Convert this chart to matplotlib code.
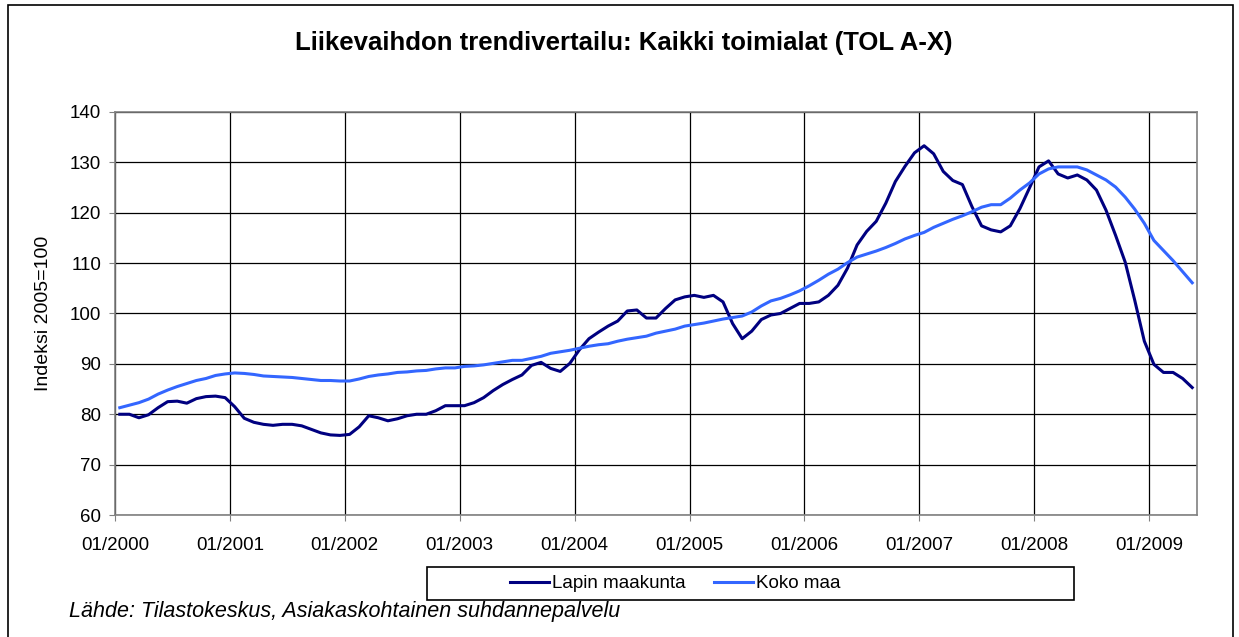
import matplotlib
matplotlib.use("Agg")
import matplotlib.pyplot as plt
from matplotlib.patches import Rectangle
from matplotlib.lines import Line2D
import numpy as np

plt.rcParams['font.family'] = ['Liberation Sans', 'DejaVu Sans']

title = "Liikevaihdon trendivertailu: Kaikki toimialat (TOL A-X)"
ylabel = "Indeksi 2005=100"
source = "Lähde: Tilastokeskus, Asiakaskohtainen suhdannepalvelu"
series_names = ["Lapin maakunta", "Koko maa"]
year_labels = ["01/2000", "01/2001", "01/2002", "01/2003", "01/2004",
               "01/2005", "01/2006", "01/2007", "01/2008", "01/2009"]

# Monthly values 01/2000 - 05/2009
lapin = [80.0, 80.0, 79.3, 79.9, 81.3, 82.5, 82.6, 82.2, 83.1, 83.5, 83.6, 83.3,
         81.5, 79.2, 78.4, 78.0, 77.8, 78.0, 78.0, 77.7, 77.0, 76.3, 75.9, 75.8,
         76.0, 77.5, 79.7, 79.3, 78.7, 79.1, 79.7, 80.0, 80.0, 80.7, 81.7, 81.7,
         81.7, 82.3, 83.3, 84.7, 85.9, 86.9, 87.8, 89.7, 90.3, 89.1, 88.5, 90.1,
         92.8, 95.0, 96.3, 97.5, 98.5, 100.5, 100.7, 99.1, 99.1, 101.0, 102.7, 103.3,
         103.6, 103.2, 103.6, 102.3, 98.0, 95.0, 96.5, 98.8, 99.7, 100.0, 101.0, 102.0,
         102.0, 102.3, 103.6, 105.6, 109.0, 113.6, 116.3, 118.3, 121.9, 126.2, 129.2, 131.9,
         133.3, 131.7, 128.2, 126.4, 125.6, 121.2, 117.4, 116.6, 116.2, 117.4, 120.8, 124.9,
         129.1, 130.3, 127.7, 126.9, 127.5, 126.5, 124.5, 120.5, 115.5, 110.2, 102.6, 94.5,
         89.9, 88.3, 88.3, 87.1, 85.3]
koko = [81.3, 81.8, 82.3, 83.0, 84.0, 84.8, 85.5, 86.1, 86.7, 87.1, 87.7, 88.0,
        88.2, 88.1, 87.9, 87.6, 87.5, 87.4, 87.3, 87.1, 86.9, 86.7, 86.7, 86.6,
        86.6, 87.0, 87.5, 87.8, 88.0, 88.3, 88.4, 88.6, 88.7, 89.0, 89.2, 89.2,
        89.5, 89.6, 89.8, 90.1, 90.4, 90.7, 90.7, 91.1, 91.5, 92.1, 92.4, 92.7,
        93.1, 93.5, 93.8, 94.0, 94.5, 94.9, 95.2, 95.5, 96.1, 96.5, 96.9, 97.5,
        97.8, 98.1, 98.5, 98.9, 99.2, 99.5, 100.3, 101.5, 102.5, 103.0, 103.7, 104.5,
        105.5, 106.6, 107.8, 108.8, 110.1, 111.2, 111.8, 112.4, 113.1, 113.9, 114.8, 115.5,
        116.1, 117.1, 117.9, 118.7, 119.4, 120.2, 121.1, 121.6, 121.6, 122.9, 124.5, 125.9,
        127.7, 128.7, 129.1, 129.1, 129.1, 128.5, 127.5, 126.5, 125.1, 123.1, 120.7, 117.9,
        114.5, 112.5, 110.5, 108.3, 106.1]

W, H = 1239, 637
fig = plt.figure(figsize=(W / 100, H / 100), dpi=100)
ax = fig.add_axes([115 / W, 1 - 515 / H, (1197 - 115) / W, (515 - 112) / H])

n = len(lapin)
x = np.arange(n) + 0.5
ax.plot(x, lapin, color="#000080", lw=2.2, solid_joinstyle="round", zorder=3)
ax.plot(x, koko, color="#3366FF", lw=2.2, solid_joinstyle="round", zorder=3)

ax.set_xlim(0, n)
ax.set_ylim(60, 140)
ax.set_yticks(np.arange(60, 141, 10))
ax.set_xticks(np.arange(0, 12 * len(year_labels), 12))
ax.set_xticklabels(year_labels)
ax.grid(True, color="black", lw=0.9, zorder=1)
ax.set_axisbelow(True)
ax.tick_params(axis="both", labelsize=13.5, length=4, color="#808080", direction="out")
ax.tick_params(axis="x", pad=12)
ax.tick_params(axis="y", pad=6)
for s in ax.spines.values():
    s.set_color("#808080")
    s.set_linewidth(1.2)
ax.set_ylabel(ylabel, fontsize=14)
ax.yaxis.set_label_coords(-(115 - 52) / (1197 - 115), 0.5)

fig.text(624 / W, 1 - 43 / H, title, ha="center", va="center",
         fontsize=18.5, fontweight="bold")
fig.text(69 / W, 1 - 617 / H, source, ha="left", va="baseline",
         fontsize=15.5, style="italic")

# legend box
fig.patches.append(Rectangle((427 / W, 1 - 600 / H), (1074 - 427) / W, (600 - 567) / H,
                             transform=fig.transFigure, fill=False, edgecolor="black",
                             lw=1.2))
handles = [Line2D([], [], color="#000080", lw=2.2), Line2D([], [], color="#3366FF", lw=2.2)]
leg = fig.legend(handles, series_names, loc="center left",
                 bbox_to_anchor=(510 / W, 1 - 583.5 / H), ncol=2, frameon=False,
                 fontsize=13.5, handlelength=2.1, handletextpad=0.15, columnspacing=1.5,
                 borderaxespad=0, borderpad=0)

# outer border
fig.patches.append(Rectangle((8 / W, -0.02), (1233 - 8) / W, 1.02 - 5 / H,
                             transform=fig.transFigure, fill=False, edgecolor="black",
                             lw=1.2))

fig.savefig("out.png", dpi=100)
